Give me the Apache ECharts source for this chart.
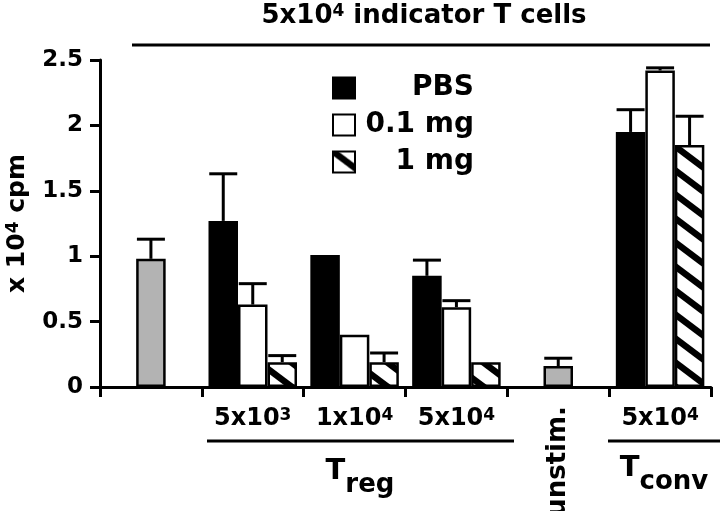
<!DOCTYPE html>
<html>
<head>
<meta charset="utf-8">
<script src="https://cdn.jsdelivr.net/npm/echarts@6/dist/echarts.min.js"></script>
<style>
html,body{margin:0;padding:0;background:#fff;}
#chart{width:720px;height:511px;}
</style>
</head>
<body>
<div id="chart"></div>
<script>
// ---- data ----
const groupLabels = ['', '5x10^3', '1x10^4', '5x10^4', 'unstim.', '5x10^4'];
const seriesNames = ['PBS', '0.1 mg', '1 mg'];
const ctrlMean = [0.98, null, null, null, 0.16, null];
const ctrlErr  = [0.15, null, null, null, 0.06, null];
const pbsMean  = [null, 1.27, 1.01, 0.85, null, 1.95];
const pbsErr   = [null, 0.36, 0,    0.12, null, 0.17];
const lowMean  = [null, 0.63, 0.40, 0.61, null, 2.42];
const lowErr   = [null, 0.16, 0,    0.05, null, 0.02];
const highMean = [null, 0.19, 0.19, 0.19, null, 1.85];
const highErr  = [null, 0.05, 0.07, 0,    null, 0.22];
const yTicks = [0, 0.5, 1, 1.5, 2, 2.5];

// ---- styling ----
const FONT = '"DejaVu Sans", "Liberation Sans", Arial, sans-serif';
const BAR_W = 29.5;

function hatch() {
  const c = document.createElement('canvas');
  c.width = 32; c.height = 24;
  const g = c.getContext('2d');
  g.fillStyle = '#fff'; g.fillRect(0, 0, 32, 24);
  g.strokeStyle = '#000'; g.lineWidth = 6.5; g.lineCap = 'butt';
  for (let k = -1; k <= 1; k++) {
    g.beginPath();
    g.moveTo(-4, k * 24 - 3);
    g.lineTo(36, 27 + k * 24);
    g.stroke();
  }
  return c;
}

function toRich(s) { return s.replace(/\^(\d+)/, '{sup|$1}'); }
const dash = a => a.map(v => v == null ? '-' : v);

const supStyle = { fontSize: 17, lineHeight: 14, verticalAlign: 'top', fontWeight: 'bold', fontFamily: FONT, color: '#000' };

function errData(means, errs, slot) {
  const out = [];
  means.forEach((m, i) => {
    if (m != null && errs[i]) out.push([i, m, errs[i], slot]);
  });
  return out;
}
const errAll = [].concat(
  errData(ctrlMean, ctrlErr, 0),
  errData(pbsMean, pbsErr, -1),
  errData(lowMean, lowErr, 0),
  errData(highMean, highErr, 1)
);

const chart = echarts.init(document.getElementById('chart'), null, { renderer: 'canvas' });
const barStyle = (color) => ({ color: color, borderColor: '#000', borderWidth: 2.5 });

chart.setOption({
  animation: false,
  backgroundColor: '#fff',
  grid: { left: 100, right: 9, top: 60, bottom: 124, containLabel: false, outerBoundsMode: 'none' },
  legend: {
    orient: 'vertical', left: 332, top: 74, padding: 0,
    itemWidth: 22, itemHeight: 21, itemGap: 9, icon: 'rect',
    data: seriesNames,
    formatter: n => '{r|' + n + '}',
    textStyle: {
      rich: { r: { width: 114, align: 'right', fontSize: 28, lineHeight: 30, fontWeight: 'bold', fontFamily: FONT, color: '#000' } }
    }
  },
  xAxis: [{
    type: 'category', data: groupLabels, position: 'bottom',
    axisLine: { lineStyle: { color: '#000', width: 3 } },
    axisTick: { show: true, length: 10, interval: 0, lineStyle: { color: '#000', width: 3 } },
    axisLabel: {
      interval: 0, margin: 20,
      formatter: v => v === 'unstim.' ? '' : toRich(v),
      fontSize: 24, lineHeight: 24, fontWeight: 'bold', fontFamily: FONT, color: '#000',
      rich: { sup: supStyle }
    }
  }, {
    type: 'category', data: groupLabels, position: 'bottom',
    axisLine: { show: false }, axisTick: { show: false },
    axisLabel: {
      interval: 0, margin: 19, rotate: 90,
      formatter: v => v === 'unstim.' ? v : '',
      fontSize: 26, fontWeight: 'bold', fontFamily: FONT, color: '#000'
    }
  }],
  yAxis: {
    type: 'value', min: yTicks[0], max: yTicks[yTicks.length - 1], interval: 0.5,
    splitLine: { show: false },
    axisLine: { show: true, lineStyle: { color: '#000', width: 3 } },
    axisTick: { show: true, length: 10, lineStyle: { color: '#000', width: 3 } },
    axisLabel: { margin: 17, fontSize: 23, fontWeight: 'bold', fontFamily: FONT, color: '#000' },
    name: 'x 10{sup|4} cpm', nameLocation: 'middle', nameGap: 70,
    nameTextStyle: {
      fontSize: 25, lineHeight: 25, fontWeight: 'bold', fontFamily: FONT, color: '#000',
      rich: { sup: { fontSize: 17, lineHeight: 14, verticalAlign: 'top', fontWeight: 'bold', fontFamily: FONT, color: '#000' } }
    }
  },
  series: [
    { name: 'ctrl', type: 'bar', xAxisIndex: 1, barWidth: BAR_W, data: dash(ctrlMean), itemStyle: barStyle('#b3b3b3') },
    { name: seriesNames[0], type: 'bar', xAxisIndex: 0, barWidth: BAR_W, barGap: '0%', data: dash(pbsMean), itemStyle: barStyle('#000') },
    { name: seriesNames[1], type: 'bar', xAxisIndex: 0, barWidth: BAR_W, barGap: '0%', data: dash(lowMean), itemStyle: barStyle('#fff') },
    { name: seriesNames[2], type: 'bar', xAxisIndex: 0, barWidth: BAR_W, barGap: '0%', data: dash(highMean), itemStyle: barStyle({ image: hatch(), repeat: 'repeat' }) },
    {
      name: 'err', type: 'custom', xAxisIndex: 0, z: 5,
      data: errAll,
      encode: { x: 0, y: 1 },
      renderItem: function (params, api) {
        const base = api.coord([api.value(0), api.value(1)]);
        const tip = api.coord([api.value(0), api.value(1) + api.value(2)]);
        const x = base[0] + api.value(3) * BAR_W;
        const st = { stroke: '#000', lineWidth: 3 };
        return {
          type: 'group', children: [
            { type: 'line', shape: { x1: x, y1: base[1], x2: x, y2: tip[1] }, style: st },
            { type: 'line', shape: { x1: x - 14, y1: tip[1], x2: x + 14, y2: tip[1] }, style: st }
          ]
        };
      }
    }
  ],
  graphic: [
    { type: 'text', x: 424, y: 16, style: {
        text: '5x10{sup|4} indicator T cells', align: 'center', verticalAlign: 'middle',
        fontSize: 26, lineHeight: 26, fontWeight: 'bold', fontFamily: FONT, fill: '#000',
        rich: { sup: { fontSize: 17, lineHeight: 14, verticalAlign: 'top', fontWeight: 'bold', fontFamily: FONT, fill: '#000' } }
    } },
    { type: 'line', shape: { x1: 132, y1: 45, x2: 710, y2: 45 }, style: { stroke: '#000', lineWidth: 3 } },
    { type: 'line', shape: { x1: 207, y1: 441, x2: 514, y2: 441 }, style: { stroke: '#000', lineWidth: 3 } },
    { type: 'line', shape: { x1: 608, y1: 441, x2: 720, y2: 441 }, style: { stroke: '#000', lineWidth: 3 } },
    { type: 'text', x: 360, y: 457, style: {
        text: '{t|T}{s|reg}', align: 'center', verticalAlign: 'top', fill: '#000',
        rich: {
          t: { fontSize: 29, lineHeight: 29, verticalAlign: 'top', fontWeight: 'bold', fontFamily: FONT, fill: '#000' },
          s: { fontSize: 26, lineHeight: 41, verticalAlign: 'bottom', fontWeight: 'bold', fontFamily: FONT, fill: '#000' }
        }
    } },
    { type: 'text', x: 664, y: 454, style: {
        text: '{t|T}{s|conv}', align: 'center', verticalAlign: 'top', fill: '#000',
        rich: {
          t: { fontSize: 29, lineHeight: 29, verticalAlign: 'top', fontWeight: 'bold', fontFamily: FONT, fill: '#000' },
          s: { fontSize: 26, lineHeight: 41, verticalAlign: 'bottom', fontWeight: 'bold', fontFamily: FONT, fill: '#000' }
        }
    } }
  ]
});
</script>
</body>
</html>
